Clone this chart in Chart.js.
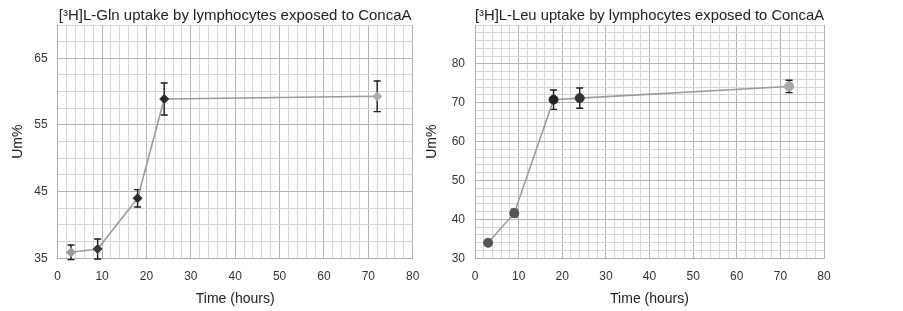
<!DOCTYPE html>
<html>
<head>
  <meta charset="utf-8">
  <title>[3H] uptake by lymphocytes exposed to ConcaA</title>
  <script src="https://cdn.jsdelivr.net/npm/chart.js"></script>
  <style>
    body { margin: 0; background: #fff; }
    .panel { position: absolute; top: 0; height: 311px; }
  </style>
</head>
<body>
  <div class="panel" style="left:0;width:420px"><canvas id="glnChart"></canvas></div>
  <div class="panel" style="left:420px;width:483px"><canvas id="leuChart"></canvas></div>

  <script>
    // Time points (hours)
    const timeGln = [3, 9, 18, 24, 72];
    const timeLeu = [3, 9, 18, 24, 72];

    // Um% values and their error bars
    const umGln = [35.9, 36.4, 44.0, 58.9, 59.3];
    const errGln = [1.1, 1.5, 1.3, 2.4, 2.3];
    const umLeu = [34.0, 41.6, 70.8, 71.2, 74.2];
    const errLeu = [0.6, 1.0, 2.5, 2.6, 1.6];

    // Labelled ticks
    const xTickLabels = [0, 10, 20, 30, 40, 50, 60, 70, 80];
    const glnYTickLabels = [35, 45, 55, 65];
    const leuYTickLabels = [30, 40, 50, 60, 70, 80];

    const FONT = 'Arial, "Liberation Sans", sans-serif';

    // draws vertical error bars with caps behind the markers
    const errorBars = {
      id: 'errorBars',
      beforeDatasetsDraw(chart, args, opts) {
        const { ctx, scales: { x, y } } = chart;
        const pts = chart.data.datasets[0].data;
        ctx.save();
        ctx.strokeStyle = '#1a1a1a';
        ctx.lineWidth = 1.4;
        pts.forEach((p, i) => {
          const e = opts.errors[i];
          const px = x.getPixelForValue(p.x);
          const yt = y.getPixelForValue(p.y + e);
          const yb = y.getPixelForValue(p.y - e);
          ctx.beginPath();
          ctx.moveTo(px, yt); ctx.lineTo(px, yb);
          ctx.moveTo(px - 3.5, yt); ctx.lineTo(px + 3.5, yt);
          ctx.moveTo(px - 3.5, yb); ctx.lineTo(px + 3.5, yb);
          ctx.stroke();
        });
        ctx.restore();
      }
    };

    function gridTicks(min, max, step) {
      const out = [];
      for (let v = min; v <= max + 1e-9; v += step) out.push({ value: +v.toFixed(3) });
      return out;
    }

    function makeChart(id, cfg) {
      const ctx = document.getElementById(id).getContext('2d');
      return new Chart(ctx, {
        type: 'line',
        data: {
          datasets: [{
            data: cfg.times.map((t, i) => ({ x: t, y: cfg.values[i] })),
            borderColor: '#9c9c9c',
            borderWidth: 1.6,
            tension: 0,
            pointRadius: 4.5,
            pointStyle: cfg.pointStyle,
            pointBackgroundColor: cfg.pointColors,
            pointBorderColor: cfg.pointColors,
            pointBorderWidth: 1
          }]
        },
        plugins: [errorBars],
        options: {
          responsive: true,
          maintainAspectRatio: false,
          animation: false,
          layout: { padding: { left: 0, right: cfg.padRight, top: 0, bottom: 0 } },
          plugins: {
            legend: { display: false },
            tooltip: { enabled: false },
            errorBars: { errors: cfg.errors },
            title: {
              display: true,
              fullSize: false,
              text: cfg.title,
              color: '#222',
              font: { family: FONT, size: 15, weight: 'normal' },
              padding: { top: 6.5, bottom: 0.5 }
            }
          },
          scales: {
            x: {
              type: 'linear',
              min: 0,
              max: 80,
              afterBuildTicks: s => { s.ticks = gridTicks(0, 80, 2); },
              afterFit: s => { s.height = 52.7; s.paddingLeft = 0; s.paddingRight = 0; },
              ticks: {
                autoSkip: false,
                maxRotation: 0,
                padding: 11,
                color: '#333',
                font: { family: FONT, size: 12 },
                callback: v => xTickLabels.includes(v) ? v : ''
              },
              grid: {
                drawTicks: false,
                color: c => (c.tick && c.tick.value % 10 === 0) ? '#b4b4b4' : '#d6d6d6',
                lineWidth: 1
              },
              border: { color: '#b0b0b0' },
              title: {
                display: true,
                text: 'Time (hours)',
                color: '#222',
                font: { family: FONT, size: 14 },
                padding: { top: 0, bottom: 3.6 }
              }
            },
            y: {
              min: cfg.yMin,
              max: cfg.yMax,
              afterBuildTicks: s => { s.ticks = gridTicks(cfg.yMin, cfg.yMax, cfg.yMinor); },
              afterFit: s => { s.width = cfg.yAxisWidth; },
              ticks: {
                autoSkip: false,
                padding: 10,
                color: '#333',
                font: { family: FONT, size: 12 },
                callback: v => cfg.yLabels.includes(v) ? v : ''
              },
              grid: {
                drawTicks: false,
                color: c => (c.tick && cfg.yLabels.includes(c.tick.value)) ? '#b4b4b4' : '#d6d6d6',
                lineWidth: 1
              },
              border: { color: '#b0b0b0' },
              title: {
                display: true,
                text: 'Um%',
                color: '#222',
                font: { family: FONT, size: 14 },
                padding: { top: cfg.yTitlePad, bottom: 0 }
              }
            }
          }
        }
      });
    }

    makeChart('glnChart', {
      title: '[³H]L-Gln uptake by lymphocytes exposed to ConcaA',
      times: timeGln,
      values: umGln,
      errors: errGln,
      yMin: 35, yMax: 70, yMinor: 2.5,
      yLabels: glnYTickLabels,
      yAxisWidth: 57.7,
      yTitlePad: 9.6,
      padRight: 7.3,
      pointStyle: 'rectRot',
      pointColors: ['#9a9a9a', '#3a3a3a', '#2a2a2a', '#2a2a2a', '#adadad']
    });

    makeChart('leuChart', {
      title: '[³H]L-Leu uptake by lymphocytes exposed to ConcaA',
      times: timeLeu,
      values: umLeu,
      errors: errLeu,
      yMin: 30, yMax: 90, yMinor: 2,
      yLabels: leuYTickLabels,
      yAxisWidth: 55,
      yTitlePad: 3.5,
      padRight: 79,
      pointStyle: 'circle',
      pointColors: ['#555', '#555', '#222', '#333', '#a8a8a8']
    });
  </script>
</body>
</html>
